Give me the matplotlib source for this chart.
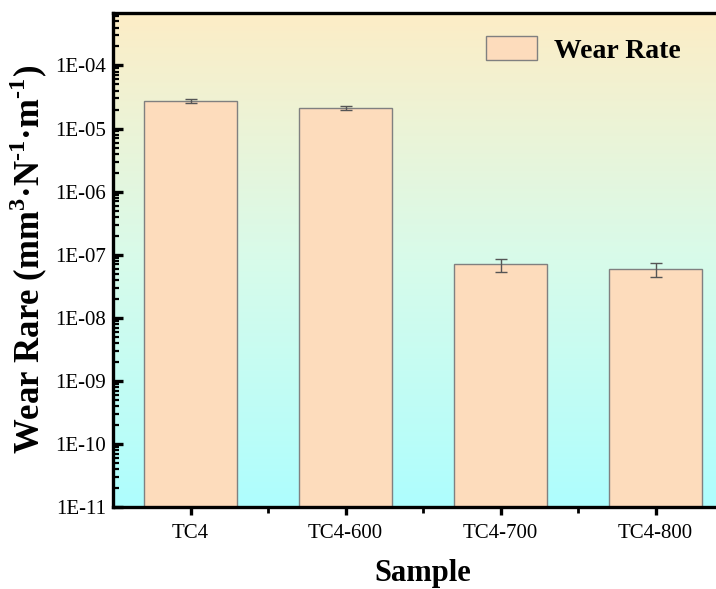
import numpy as np
import matplotlib
matplotlib.use("Agg")
import matplotlib.pyplot as plt
from matplotlib.colors import LinearSegmentedColormap

plt.rcParams['font.family'] = ['Liberation Serif', 'DejaVu Serif']
plt.rcParams['mathtext.fontset'] = 'custom'
plt.rcParams['mathtext.rm'] = 'Liberation Serif'
plt.rcParams['mathtext.bf'] = 'Liberation Serif:bold'

samples = ["TC4", "TC4-600", "TC4-700", "TC4-800"]
wear_rate = [2.7e-5, 2.1e-5, 7.0e-8, 5.9e-8]
wear_err = [2.0e-6, 1.5e-6, 1.6e-8, 1.5e-8]
ytick_vals = [1e-11, 1e-10, 1e-9, 1e-8, 1e-7, 1e-6, 1e-5, 1e-4]
ytick_labels = ["1E-11", "1E-10", "1E-09", "1E-08", "1E-07", "1E-06", "1E-05", "1E-04"]

W, H = 716, 589
fig = plt.figure(figsize=(W / 100, H / 100), dpi=100)
fig.patch.set_facecolor("white")
left, right, bottom, top = 113, 733, 507, 12.5
ax = fig.add_axes([left / W, 1 - bottom / H, (right - left) / W, (bottom - top) / H])

# vertical background gradient (cream at top to cyan at bottom)
cmap = LinearSegmentedColormap.from_list(
    "bg", [(0.0, "#aefefe"), (0.5, "#d8fbea"), (1.0, "#fdedc6")])
grad = np.linspace(0, 1, 256).reshape(-1, 1)
ax.imshow(grad, cmap=cmap, aspect="auto", extent=(0, 1, 0, 1),
          origin="lower", transform=ax.transAxes, zorder=0)

x = np.arange(len(samples))
ax.bar(x, wear_rate, width=0.6, color="#fddcbc", edgecolor="#808080",
       linewidth=1.0, zorder=2, label="Wear Rate")
ax.errorbar(x, wear_rate, yerr=wear_err, fmt="none", ecolor="#555555",
            elinewidth=1.0, capsize=4, capthick=1.0, zorder=3)

ax.set_yscale("log")
ax.set_ylim(1e-11, 10 ** -3.16)
ax.set_xlim(-0.5, 3.5)
ax.set_yticks(ytick_vals)
ax.set_yticklabels(ytick_labels)
ax.yaxis.set_minor_locator(matplotlib.ticker.LogLocator(base=10, subs=np.arange(2, 10), numticks=20))
ax.yaxis.set_minor_formatter(matplotlib.ticker.NullFormatter())
ax.set_xticks(x)
ax.set_xticklabels(samples)
ax.set_xticks([0.5, 1.5, 2.5], minor=True)

for side in ["left", "bottom", "top"]:
    ax.spines[side].set_linewidth(2.4)
    ax.spines[side].set_color("black")
ax.spines["right"].set_visible(False)

ax.tick_params(axis="y", which="major", direction="in", length=7, width=2.4,
               labelsize=15, pad=5)
ax.tick_params(axis="y", which="minor", direction="in", length=4, width=1.6)
ax.tick_params(axis="x", which="major", direction="out", length=6, width=2.4,
               labelsize=15, pad=6)
ax.tick_params(axis="x", which="minor", direction="out", length=4, width=2.0)

ax.set_xlabel("Sample", fontsize=22, fontweight="bold", labelpad=12)
ax.set_ylabel("Wear Rare (mm$^{\\mathbf{3}}$·N$^{\\mathbf{\u20101}}$·m$^{\\mathbf{\u20101}}$)",
              fontsize=25, fontweight="bold", labelpad=4)

leg = ax.legend(loc="upper left", bbox_to_anchor=(486 / W, 1 - 36 / H),
                bbox_transform=fig.transFigure, frameon=False,
                prop={"weight": "bold", "size": 20}, handlelength=1.84,
                handleheight=0.95, handletextpad=0.6, borderpad=0, borderaxespad=0)

fig.savefig("out.png", dpi=100, facecolor="white")
